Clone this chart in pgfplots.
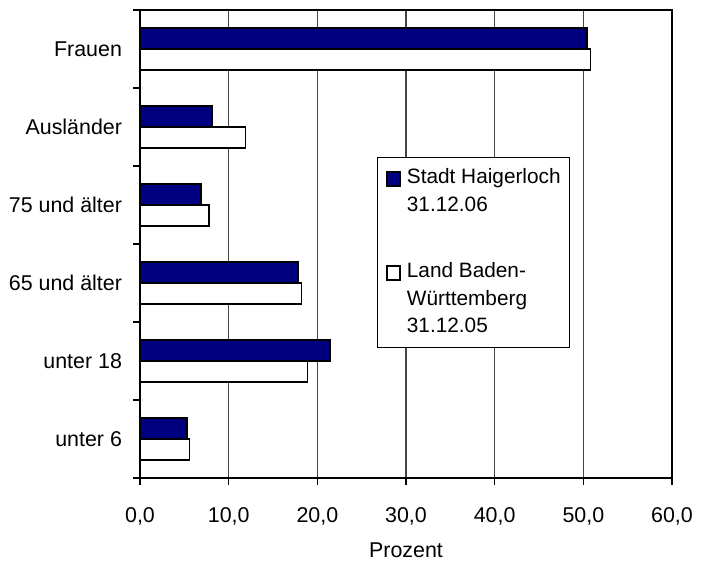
\documentclass[border=0pt]{standalone}
\usepackage{fontspec}
\setmainfont{Liberation Sans}
\usepackage{pgfplots}
\usepackage{pgfplotstable}
\pgfplotsset{compat=1.18}

\definecolor{navybar}{RGB}{0,0,128}
\definecolor{gridgray}{RGB}{70,70,70}

% Anteile in Prozent: Stadt Haigerloch (31.12.06) und Land (31.12.05)
\pgfplotstableread{
idx haigerloch land
0   5.3   5.6
1   21.4  18.9
2   17.8  18.2
3   6.9   7.8
4   8.1   11.9
5   50.4  50.8
}\anteile

\begin{document}
\begin{tikzpicture}
\begin{axis}[
  scale only axis,
  width=266pt, height=234pt,
  xmin=0, xmax=60, ymin=-0.5, ymax=5.5,
  xbar, bar width=0.27,
  axis line style={line width=0.8pt},
  xtick={0,10,...,60},
  ytick={-0.5,0.5,...,5.5},
  yticklabels={unter 6, unter 18, 65 und älter, 75 und älter, Ausländer, Frauen, {}},
  tick align=outside, tick pos=left,
  major tick length=3.5pt,
  tick style={black, line width=0.8pt},
  xmajorgrids,
  grid style={gridgray, line width=0.6pt},
  tick label style={font=\fontsize{10.7}{13}\selectfont},
  yticklabel style={yshift=19.5pt, xshift=-2pt},
  xticklabel style={yshift=-7.9pt},
  /pgf/number format/.cd, fixed, fixed zerofill, precision=1, use comma, assume math mode=true,
  /pgfplots/.cd,
  xlabel={Prozent},
  xlabel style={font=\fontsize{10.7}{13}\selectfont,
    at={(rel axis cs:0.5,0)}, anchor=base, yshift=-39.8pt},
  legend cell align=left,
  legend style={
    at={(rel axis cs:0.4455,0.686)}, anchor=north west,
    draw=black, line width=0.5pt,
    inner xsep=4.3pt, inner ysep=3.5pt,
    font=\fontsize{10.4}{13.75}\selectfont,
    nodes={inner sep=0pt, text depth=},
    cells={anchor=base west},
    column sep=3pt, row sep=19.5pt,
  },
  legend image code/.code={%
    \draw[#1, line width=0.8pt] (0pt,-1pt) rectangle (6.6pt,5.8pt);},
]
\addplot[fill=navybar, draw=black, line width=0.8pt, bar shift=0.135]
  table[x=haigerloch, y=idx] {\anteile};
\addlegendentry{\begin{tabular}[t]{@{}l@{}}Stadt Haigerloch\\31.12.06\end{tabular}}
\addplot[fill=white, draw=black, line width=0.8pt, bar shift=-0.135]
  table[x=land, y=idx] {\anteile};
\addlegendentry{\begin{tabular}[t]{@{}l@{}}Land Baden-\\Württemberg\\31.12.05\end{tabular}}

\coordinate (bbsw) at (rel axis cs:-0.2632,-0.1795);
\coordinate (bbne) at (rel axis cs:1.0545,1.0214);
\end{axis}
% fixed page frame around the axis and its labels
\pgfresetboundingbox
\path (bbsw) rectangle (bbne);
\end{tikzpicture}
\end{document}
